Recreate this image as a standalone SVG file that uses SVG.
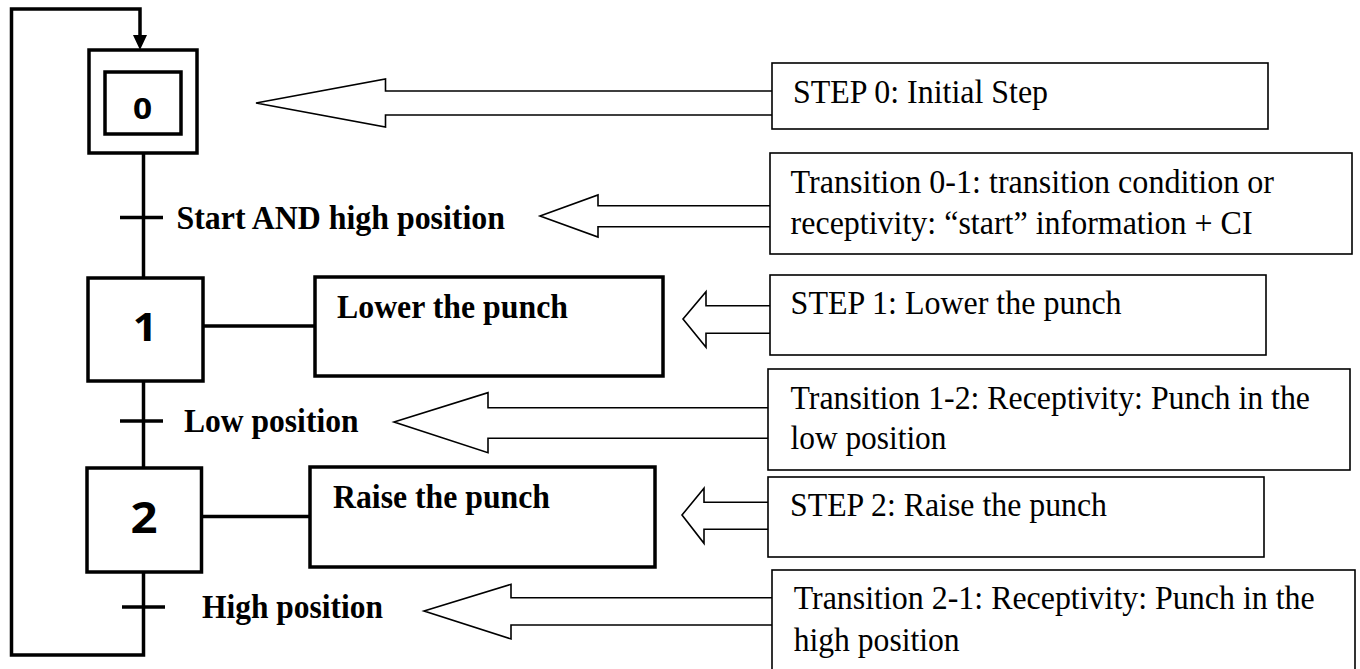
<svg xmlns="http://www.w3.org/2000/svg" width="1360" height="669" viewBox="0 0 1360 669">
<style>
.thick{fill:none;stroke:#000;stroke-width:3.5}
.box{fill:#fff;stroke:#000;stroke-width:3.5}
.note{fill:#fff;stroke:#000;stroke-width:1.6}
.arr{fill:#fff;stroke:#000;stroke-width:1.6;stroke-linejoin:miter}
.num{font-family:"Open Sans","Liberation Sans",sans-serif;font-weight:bold;text-anchor:middle;fill:#000}
.lbl{font-family:"Liberation Serif","Times New Roman",serif;font-weight:bold;font-size:34px;fill:#000}
.txt{font-family:"Liberation Serif","Times New Roman",serif;font-size:34px;fill:#000}
</style>
<rect width="1360" height="669" fill="#fff"/>
<g id="connectors">
  <polyline class="thick" points="143.5,153 143.5,278"/>
  <polyline class="thick" points="143.5,381 143.5,468"/>
  <polyline class="thick" points="143.5,572 143.5,655 11.5,655 11.5,9 140,9 140,36"/>
  <polygon points="133,35 147,35 140,50" fill="#000"/>
  <line class="thick" x1="120" y1="217.5" x2="163" y2="217.5"/>
  <line class="thick" x1="120" y1="421" x2="163" y2="421"/>
  <line class="thick" x1="122" y1="607" x2="165" y2="607"/>
  <line class="thick" x1="203" y1="326" x2="315" y2="326"/>
  <line class="thick" x1="201.5" y1="516.5" x2="310" y2="516.5"/>
  <polygon class="arr" points="256,103 385.5,79 385.5,91 774,91 774,115 385.5,115 385.5,127"/>
  <polygon class="arr" points="540,216 598,195 598,205.7 772,205.7 772,226.7 598,226.7 598,237"/>
  <polygon class="arr" points="683,319 706,291.7 706,305.7 771,305.7 771,333.3 706,333.3 706,347.3"/>
  <polygon class="arr" points="394,422 488,392.7 488,407.7 769,407.7 769,438.3 488,438.3 488,452.7"/>
  <polygon class="arr" points="682,515 704,488.3 704,502.3 769,502.3 769,529.3 704,529.3 704,543.3"/>
  <polygon class="arr" points="424,611 511,584.3 511,597.7 773,597.7 773,625 511,625 511,639"/>
</g>
<g id="step0">
  <rect class="box" x="89" y="50" width="108" height="103"/>
  <rect class="box" x="105" y="72" width="76" height="62"/>
  <text class="num" transform="translate(142.5,118.5) scale(1.15,1)" style="font-size:29px">0</text>
</g>
<g id="step1">
  <rect class="box" x="88" y="278" width="115" height="103"/>
  <text class="num" transform="translate(145,340.5) scale(1.1,1)" style="font-size:39px">1</text>
</g>
<g id="step2">
  <rect class="box" x="87" y="468" width="114.5" height="104"/>
  <text class="num" transform="translate(144,532.5) scale(1.1,1)" style="font-size:43px">2</text>
</g>
<g id="action1">
  <rect class="box" x="315" y="277" width="348" height="99"/>
  <text class="lbl" x="337" y="318.3" textLength="231" lengthAdjust="spacingAndGlyphs">Lower the punch</text>
</g>
<g id="action2">
  <rect class="box" x="310" y="467" width="345" height="100"/>
  <text class="lbl" x="333" y="508.3" textLength="217" lengthAdjust="spacingAndGlyphs">Raise the punch</text>
</g>
<g id="t01"><text class="lbl" x="176.5" y="229.3" textLength="328.5" lengthAdjust="spacingAndGlyphs">Start AND high position</text></g>
<g id="t12"><text class="lbl" x="184" y="431.7" textLength="174.5" lengthAdjust="spacingAndGlyphs">Low position</text></g>
<g id="t21"><text class="lbl" x="202" y="618.3" textLength="181" lengthAdjust="spacingAndGlyphs">High position</text></g>
<g id="note-step0">
  <rect class="note" x="772" y="63" width="496" height="66"/>
  <text class="txt" x="793" y="103.3" textLength="255" lengthAdjust="spacingAndGlyphs">STEP 0: Initial Step</text>
</g>
<g id="note-t01">
  <rect class="note" x="770" y="153" width="582" height="101"/>
  <text class="txt" x="790.6" y="193" textLength="483.4" lengthAdjust="spacingAndGlyphs">Transition 0-1: transition condition or</text>
  <text class="txt" x="790.6" y="234" textLength="462" lengthAdjust="spacingAndGlyphs">receptivity: “start” information + CI</text>
</g>
<g id="note-step1">
  <rect class="note" x="770" y="275" width="496" height="80"/>
  <text class="txt" x="790.6" y="314" textLength="331" lengthAdjust="spacingAndGlyphs">STEP 1: Lower the punch</text>
</g>
<g id="note-t12">
  <rect class="note" x="768" y="369" width="582" height="101"/>
  <text class="txt" x="790.5" y="408.5" textLength="519.5" lengthAdjust="spacingAndGlyphs">Transition 1-2: Receptivity: Punch in the</text>
  <text class="txt" x="790.5" y="449" textLength="156" lengthAdjust="spacingAndGlyphs">low position</text>
</g>
<g id="note-step2">
  <rect class="note" x="768" y="477" width="496" height="80"/>
  <text class="txt" x="790" y="515.5" textLength="317" lengthAdjust="spacingAndGlyphs">STEP 2: Raise the punch</text>
</g>
<g id="note-t21">
  <rect class="note" x="772" y="570" width="583" height="130"/>
  <text class="txt" x="793.7" y="608.5" textLength="521" lengthAdjust="spacingAndGlyphs">Transition 2-1: Receptivity: Punch in the</text>
  <text class="txt" x="793.7" y="650.5" textLength="166" lengthAdjust="spacingAndGlyphs">high position</text>
</g>
</svg>
